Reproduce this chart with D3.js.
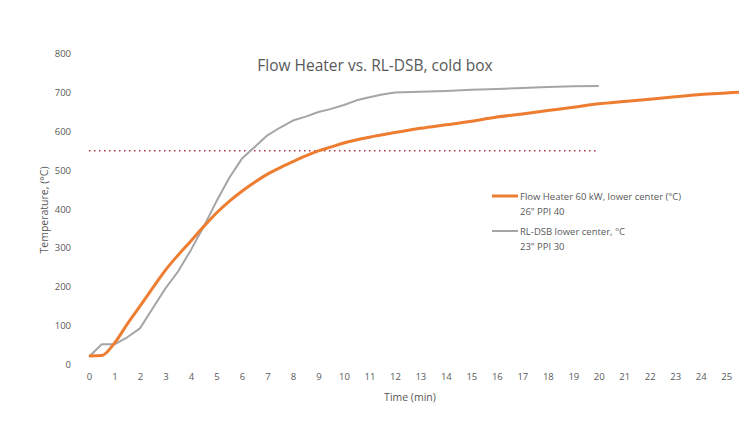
<!DOCTYPE html>
<html>
<head>
<meta charset="utf-8">
<script src="https://cdn.jsdelivr.net/npm/d3@7"></script>
<style>
  html, body { margin: 0; padding: 0; background: #fff; }
  svg { display: block; }
</style>
</head>
<body>
<svg id="chart" width="756" height="442"></svg>
<script>
const title = "Flow Heater vs. RL-DSB, cold box";
const xTicks = d3.range(0, 26);
const yTicks = [0, 100, 200, 300, 400, 500, 600, 700, 800];

const heaterTime = [0, 0.5, 1, 1.5, 2, 2.5, 3, 3.5, 4, 4.5, 5, 5.5, 6, 6.5, 7, 7.5, 8, 8.5, 9, 9.5, 10, 11, 12, 13, 14, 15, 16, 17, 18, 19, 20, 21, 22, 23, 24, 25, 25.5];
const heaterTemp = [22, 23, 55, 104, 150, 197, 243, 282, 318, 355, 390, 420, 446, 469, 490, 507, 522, 537, 550, 560, 570, 585, 597, 608, 617, 626, 637, 645, 654, 662, 671, 677, 683, 689, 695, 699, 701];

const dsbTime = [0, 0.5, 1, 1.5, 2, 2.5, 3, 3.5, 4, 4.5, 5, 5.5, 6, 6.5, 7, 7.5, 8, 8.5, 9, 9.5, 10, 10.5, 11, 11.5, 12, 13, 14, 15, 16, 17, 18, 19, 20];
const dsbTemp = [20, 52, 52, 70, 93, 145, 196, 240, 295, 355, 420, 480, 530, 560, 590, 610, 628, 638, 650, 658, 668, 680, 688, 695, 700, 702, 704, 707, 709, 712, 714, 716, 717];

const targetTemp = 550;
const targetRange = [0, 20];

const seriesNames = [["Flow Heater 60 kW, lower center (°C)", "26\" PPI 40"], ["RL-DSB lower center, °C", "23\" PPI 30"]];
const seriesColors = ["#ED7D31", "#A5A5A5"];

const svg = d3.select("#chart");
const font = "'Open Sans', 'Noto Sans', sans-serif";
const textColor = "#595959";

const x = d3.scaleLinear().domain([0, 25.5]).range([89, 739]);
const y = d3.scaleLinear().domain([0, 800]).range([364.5, 53.7]);

// Title
svg.append("text").attr("x", 375).attr("y", 71).attr("text-anchor", "middle")
  .attr("font-family", font).attr("font-size", 15.5).attr("fill", textColor).text(title);

// Y axis (labels only)
const yAxis = d3.axisLeft(y).tickValues(yTicks).tickSize(0).tickPadding(0);
const gy = svg.append("g").attr("transform", "translate(71,0)").call(yAxis);
gy.select(".domain").remove();
gy.selectAll("text").attr("font-family", font).attr("font-size", 9.5).attr("fill", textColor);

// X axis (labels only)
const xAxis = d3.axisBottom(x).tickValues(xTicks).tickSize(0).tickPadding(0);
const gx = svg.append("g").attr("transform", "translate(0,373)").call(xAxis);
gx.select(".domain").remove();
gx.selectAll("text").attr("font-family", font).attr("font-size", 9.5).attr("fill", textColor);

// Axis titles
svg.append("text").attr("transform", "translate(48,210) rotate(-90)").attr("text-anchor", "middle")
  .attr("font-family", font).attr("font-size", 10.5).attr("fill", textColor).text("Temperature, (°C)");
svg.append("text").attr("x", 410).attr("y", 401).attr("text-anchor", "middle")
  .attr("font-family", font).attr("font-size", 10.5).attr("fill", textColor).text("Time (min)");

// Target line
svg.append("line")
  .attr("x1", x(targetRange[0])).attr("x2", x(targetRange[1]))
  .attr("y1", y(targetTemp)).attr("y2", y(targetTemp))
  .attr("stroke", "#B0374A").attr("stroke-width", 1.5)
  .attr("stroke-dasharray", "1.5,3.5");

const lineLinear = d3.line().x(d => x(d[0])).y(d => y(d[1]));
const lineSmooth = d3.line().x(d => x(d[0])).y(d => y(d[1])).curve(d3.curveMonotoneX);

const dsb = dsbTime.map((t, i) => [t, dsbTemp[i]]);
const heater = heaterTime.map((t, i) => [t, heaterTemp[i]]);

svg.append("path").datum(dsb).attr("d", lineLinear).attr("fill", "none")
  .attr("stroke", seriesColors[1]).attr("stroke-width", 2).attr("stroke-linejoin", "round");
svg.append("path").datum(heater).attr("d", lineSmooth).attr("fill", "none")
  .attr("stroke", seriesColors[0]).attr("stroke-width", 3).attr("stroke-linejoin", "round");

// Legend
const legY = [196, 231];
const legW = [3, 2];
seriesNames.forEach((names, i) => {
  svg.append("line").attr("x1", 492).attr("x2", 518).attr("y1", legY[i]).attr("y2", legY[i])
    .attr("stroke", seriesColors[i]).attr("stroke-width", legW[i]);
  svg.append("text").attr("x", 520).attr("y", legY[i] + 3.5)
    .attr("font-family", font).attr("font-size", 9.5).attr("fill", textColor).text(names[0]);
  svg.append("text").attr("x", 520).attr("y", legY[i] + 18.5)
    .attr("font-family", font).attr("font-size", 9.5).attr("fill", textColor).text(names[1]);
});
</script>
</body>
</html>
